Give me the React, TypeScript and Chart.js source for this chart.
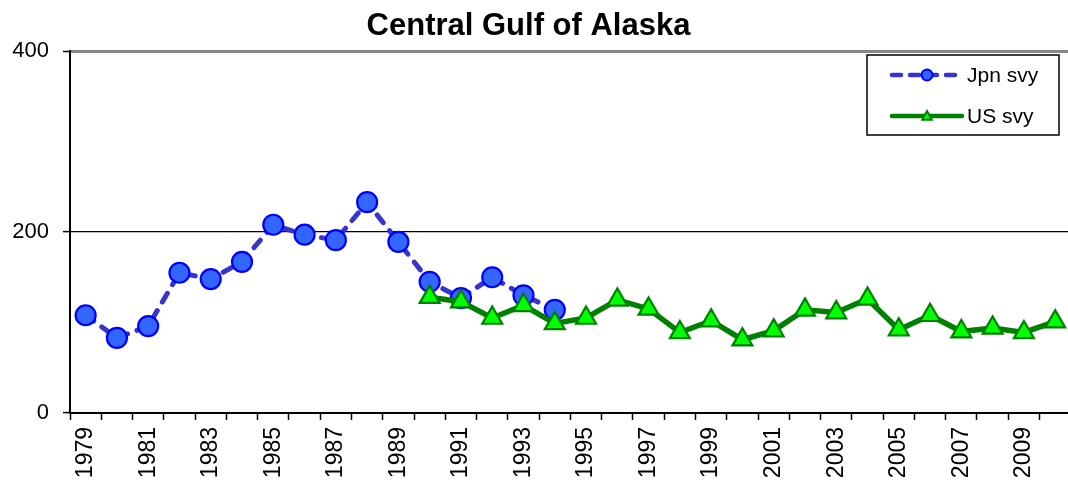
import React, { useEffect, useRef } from 'react';
import { Chart, registerables } from 'chart.js';

Chart.register(...registerables);

const FONT = "'Liberation Sans', Arial, Helvetica, sans-serif";

const chartTitle = 'Central Gulf of Alaska';

const years = [
  '1979', '1980', '1981', '1982', '1983', '1984', '1985', '1986', '1987', '1988',
  '1989', '1990', '1991', '1992', '1993', '1994', '1995', '1996', '1997', '1998',
  '1999', '2000', '2001', '2002', '2003', '2004', '2005', '2006', '2007', '2008',
  '2009', '2010',
];

// Japanese survey, 1979-1994
const jpnStartYear = '1979';
const jpnValues = [108, 83, 96, 155, 148, 167, 208, 197, 191, 233, 189, 145, 127, 150, 130, 114];

// US survey, 1990-2010
const usStartYear = '1990';
const usValues = [128, 123, 105, 119, 99, 105, 125, 115, 89, 102, 81, 91, 114, 111, 126, 92, 108, 90, 94, 89, 101];

const yTicks = [0, 200, 400];

const CANVAS_W = 1090;
const VIEW_W = 1068;
const VIEW_H = 492;

function placeSeries(start: string, values: number[]): (number | null)[] {
  const offset = years.indexOf(start);
  return years.map((_, i) => {
    const k = i - offset;
    return k >= 0 && k < values.length ? values[k] : null;
  });
}

const titlePlugin = {
  id: 'fixedTitle',
  afterDraw(chart: any) {
    const ctx: CanvasRenderingContext2D = chart.ctx;
    ctx.save();
    ctx.fillStyle = '#000000';
    ctx.font = `bold 31px ${FONT}`;
    ctx.textAlign = 'center';
    ctx.textBaseline = 'alphabetic';
    ctx.fillText(chartTitle, 528.5, 35);
    ctx.restore();
  },
};

const legendPlugin = {
  id: 'boxLegend',
  afterDraw(chart: any) {
    const ctx: CanvasRenderingContext2D = chart.ctx;
    const x0 = 867;
    const y0 = 55;
    const w = 192;
    const h = 80;
    ctx.save();
    ctx.fillStyle = '#ffffff';
    ctx.fillRect(x0, y0, w, h);
    ctx.strokeStyle = '#000000';
    ctx.lineWidth = 1.5;
    ctx.strokeRect(x0, y0, w, h);
    chart.data.datasets.forEach((ds: any, i: number) => {
      const y = y0 + 20 + i * 41;
      const lx1 = x0 + 25;
      const lx2 = x0 + 95;
      const mx = (lx1 + lx2) / 2;
      ctx.save();
      ctx.strokeStyle = ds.borderColor;
      ctx.lineWidth = 4.5;
      ctx.lineCap = 'round';
      ctx.setLineDash(ds.borderDash && ds.borderDash.length ? [9, 9] : []);
      ctx.beginPath();
      ctx.moveTo(lx1, y);
      ctx.lineTo(lx2, y);
      ctx.stroke();
      ctx.restore();
      ctx.fillStyle = ds.pointBackgroundColor;
      ctx.strokeStyle = ds.pointBorderColor;
      ctx.lineWidth = 2;
      ctx.beginPath();
      if (ds.pointStyle === 'triangle') {
        const r = 5;
        ctx.moveTo(mx, y - r);
        ctx.lineTo(mx + r * 0.95, y + r * 0.75);
        ctx.lineTo(mx - r * 0.95, y + r * 0.75);
        ctx.closePath();
      } else {
        ctx.arc(mx, y, 5.5, 0, Math.PI * 2);
      }
      ctx.fill();
      ctx.stroke();
      ctx.fillStyle = '#000000';
      ctx.font = `21px ${FONT}`;
      ctx.textAlign = 'left';
      ctx.textBaseline = 'middle';
      ctx.fillText(ds.label, x0 + 100, y + 1);
    });
    ctx.restore();
  },
};

export default function App() {
  const ref = useRef<HTMLCanvasElement | null>(null);

  useEffect(() => {
    if (!ref.current) return;
    const chart = new Chart(ref.current, {
      type: 'line',
      data: {
        labels: years,
        datasets: [
          {
            label: 'Jpn svy',
            data: placeSeries(jpnStartYear, jpnValues),
            borderColor: '#3535cc',
            borderWidth: 5,
            borderDash: [10, 10],
            borderCapStyle: 'round',
            pointStyle: 'circle',
            pointRadius: 10,
            pointBackgroundColor: '#3366ff',
            pointBorderColor: '#0000ff',
            pointBorderWidth: 2.2,
            tension: 0,
            order: 1,
          } as any,
          {
            label: 'US svy',
            data: placeSeries(usStartYear, usValues),
            borderColor: '#008000',
            borderWidth: 5.5,
            pointStyle: 'triangle',
            pointRadius: 11.5,
            pointBackgroundColor: '#00ff00',
            pointBorderColor: '#008000',
            pointBorderWidth: 2.2,
            tension: 0,
            order: 0,
          } as any,
        ],
      },
      options: {
        responsive: false,
        animation: false,
        layout: { padding: { left: 0, right: 0, top: 51, bottom: 0 } },
        plugins: {
          legend: { display: false },
          tooltip: { enabled: false },
          title: { display: false },
        },
        scales: {
          x: {
            type: 'category',
            offset: true,
            grid: {
              offset: true,
              drawOnChartArea: false,
              drawTicks: true,
              tickLength: 7,
              tickColor: '#000000',
              tickWidth: 1.5,
            },
            border: { display: true, color: '#000000', width: 2 },
            ticks: {
              autoSkip: false,
              maxRotation: 90,
              minRotation: 90,
              color: '#000000',
              font: { family: FONT, size: 23 },
              padding: 7,
              callback: function (this: any, value: any, index: number) {
                return index % 2 === 0 ? this.getLabelForValue(value) : '';
              },
            },
            afterFit: (s: any) => {
              s.height = 79;
            },
          },
          y: {
            min: yTicks[0],
            max: yTicks[yTicks.length - 1],
            afterBuildTicks: (s: any) => {
              s.ticks = yTicks.map((v) => ({ value: v }));
            },
            ticks: {
              color: '#000000',
              font: { family: FONT, size: 22 },
              padding: 14,
            },
            grid: {
              color: (c: any) => (c.tick && c.tick.value === 400 ? '#868686' : '#000000'),
              lineWidth: (c: any) => (c.tick && c.tick.value === 400 ? 3 : 1.2),
              tickLength: 7,
              tickColor: '#000000',
              tickWidth: 1.5,
            },
            border: { display: true, color: '#000000', width: 2 },
            afterFit: (s: any) => {
              s.width = 70;
            },
          },
        },
      } as any,
      plugins: [titlePlugin, legendPlugin],
    });
    return () => chart.destroy();
  }, []);

  return (
    <div
      style={{
        position: 'absolute',
        left: 0,
        top: 0,
        width: VIEW_W,
        height: VIEW_H,
        overflow: 'hidden',
        background: '#ffffff',
      }}
    >
      <canvas
        ref={ref}
        width={CANVAS_W}
        height={VIEW_H}
        style={{ display: 'block', width: CANVAS_W, height: VIEW_H }}
      />
    </div>
  );
}
